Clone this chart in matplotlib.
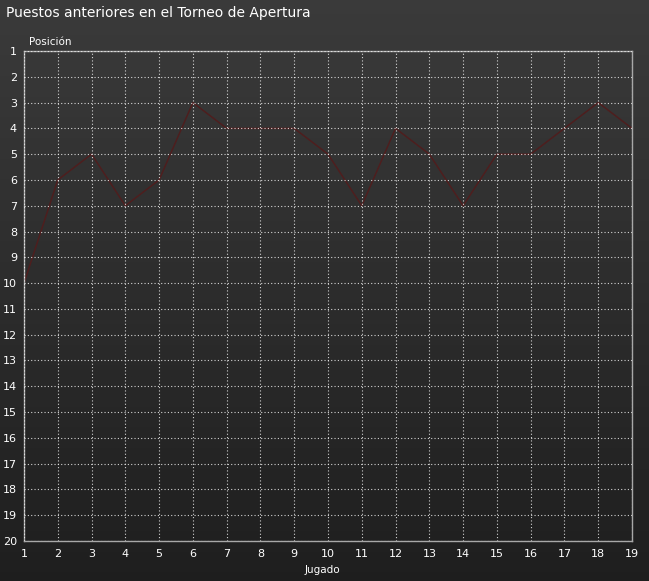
import numpy as np
import matplotlib
matplotlib.use('Agg')
import matplotlib.pyplot as plt

# Datos
jugados = list(range(1, 20))
posiciones = [10, 6, 5, 7, 6, 3, 4, 4, 4, 5, 7, 4, 5, 7, 5, 5, 4, 3, 4]
y_ticks = list(range(1, 21))

W, H = 649, 581
fig = plt.figure(figsize=(W / 100, H / 100), dpi=100)

# fondo degradado oscuro
bg = fig.add_axes([0, 0, 1, 1], zorder=-10)
grad = np.linspace(0, 1, H).reshape(-1, 1) * np.ones((1, W))
top, bot = np.array([0.23, 0.23, 0.23]), np.array([0.12, 0.12, 0.12])
img = top * (1 - grad[..., None]) + bot * grad[..., None]
bg.imshow(img, aspect='auto', interpolation='bilinear')
bg.axis('off')

ax = fig.add_axes([24 / W, 40 / H, 608 / W, 490 / H])
ax.patch.set_alpha(0)
ax.plot(jugados, posiciones, color='#4e1e1e', lw=1.1, zorder=1)

ax.set_xlim(1, 19)
ax.set_ylim(20, 1)
ax.set_xticks(jugados)
ax.set_yticks(y_ticks)
ax.set_axisbelow(False)
ax.grid(True, color='white', ls=(0, (1, 2)), lw=0.8, alpha=0.8)
for s in ax.spines.values():
    s.set_color('#a8a8a8')
    s.set_linewidth(1)
ax.tick_params(length=0, colors='white', labelsize=8, pad=6)
ax.tick_params(axis='y', pad=5)

fig.text(6 / W, 1 - 13 / H, 'Puestos anteriores en el Torneo de Apertura',
         color='white', fontsize=10, va='center', ha='left')
fig.text(29 / W, 1 - 42 / H, 'Posición', color='white', fontsize=7.5,
         va='center', ha='left')
fig.text(322 / W, 1 - 570 / H, 'Jugado', color='white', fontsize=7.5,
         va='center', ha='center')

fig.savefig('out.png', dpi=100)
